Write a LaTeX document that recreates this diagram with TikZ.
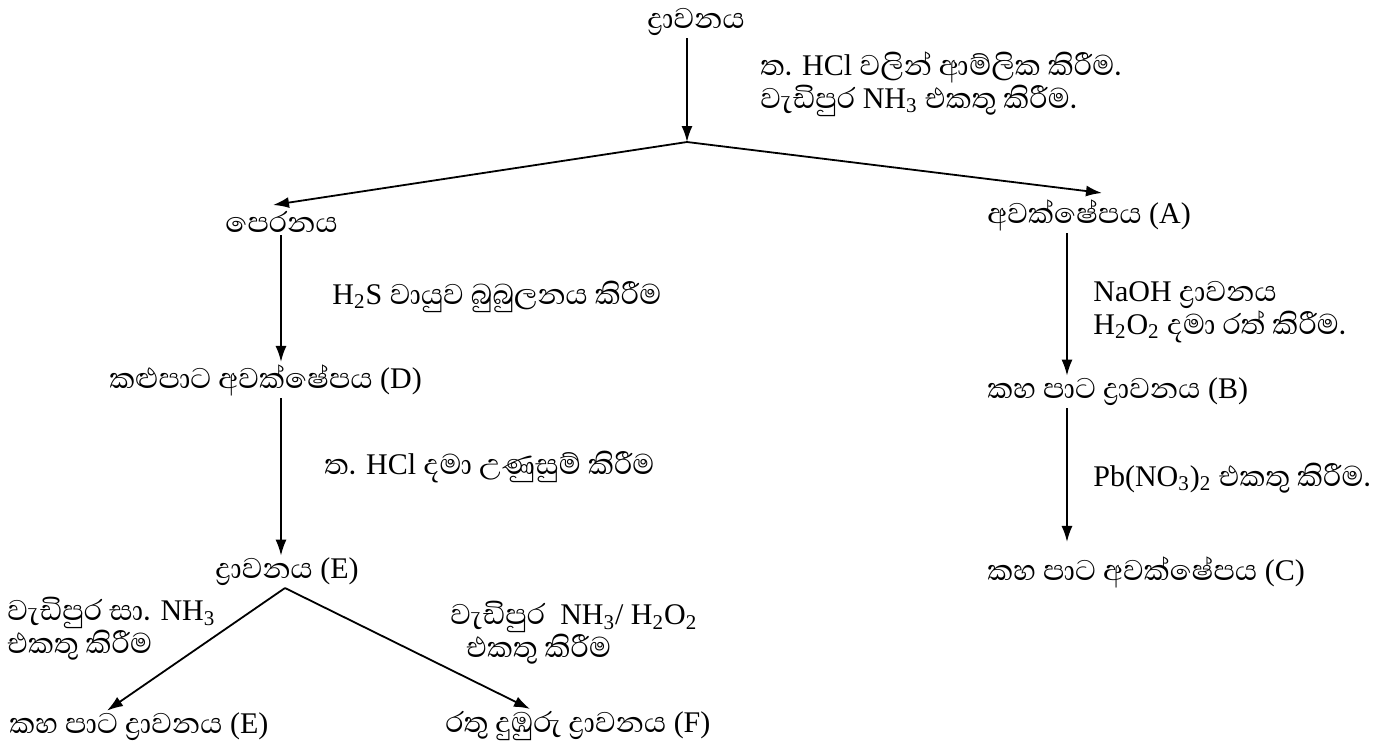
\documentclass[tikz,border=0pt]{standalone}
\usepackage{fontspec}
\setmainfont{Liberation Serif}
\newfontfamily\sinhala[Script=Sinhala,Scale=1.22]{Abhaya Libre}
\newcommand{\sn}[1]{{\sinhala #1}}
\usetikzlibrary{arrows.meta}
\usetikzlibrary{positioning}

\tikzset{
  stage/.style={inner sep=1pt, anchor=west},
  note/.style={inner sep=0pt, anchor=west, align=left},
  flow/.style={-{Latex[length=8pt,width=5.5pt]}, line width=0.9pt},
}

\begin{document}
\begin{tikzpicture}[x=0.5pt, y=-0.5pt, font=\fontsize{15}{16.5}\selectfont]
        \useasboundingbox (0,0) rectangle (1389,746);

        % Start
        \node[inner sep=1pt] (sol) at (696,22) {\sn{ද්‍රාවනය}};
        \coordinate (split) at (687,142);
        \draw[flow] (sol.south -| split) -- (split);
        \node[note] (acid) at (760,84) {\sn{ත.} HCl \sn{වලින් ආම්ලික කිරීම.}\\\sn{වැඩිපුර} NH\textsubscript{3} \sn{එකතු කිරීම.}};

        % First split
        \node[stage] (filt) at (223,222) {\sn{පෙරනය}};
        \node[stage] (pptA) at (985,215) {\sn{අවක්ෂේපය} (A)};
        \draw[flow] (split) -- ([xshift=25pt,yshift=2pt]filt.north west);
        \draw[flow] (split) -- ([xshift=58.5pt,yshift=2pt]pptA.north west);

        % Left column
        \coordinate (colL) at (281,0);
        \node[stage] (pptD) at (107,380) {\sn{කළුපාට අවක්ෂේපය} (D)};
        \node[stage] (solE) at (213,572) {\sn{ද්‍රාවනය} (E)};
        \draw[flow] (filt.south -| colL) -- (pptD.north -| colL);
        \draw[flow] (pptD.south -| colL) -- (solE.north -| colL);
        \node[note] (gas) at (332,297) {H\textsubscript{2}S \sn{වායුව බුබුලනය කිරීම}};
        \node[note] (warm) at (324,467) {\sn{ත.} HCl \sn{දමා උණුසුම් කිරීම}};

        % Split of E
        \coordinate (forkE) at (285,588);
        \node[stage] (solEy) at (7,727) {\sn{කහ පාට ද්‍රාවනය} (E)};
        \node[stage] (solF) at (443,726) {\sn{රතු දුඹුරු ද්‍රාවනය} (F)};
        \draw[flow] (forkE) -- ([xshift=50pt]solEy.north west);
        \draw[flow] (forkE) -- ([xshift=43.5pt]solF.north west);
        \node[note] (conc) at (7,629) {\sn{වැඩිපුර සා.} NH\textsubscript{3}\\\sn{එකතු කිරීම}};
        \node[note] (perox) at (450,633) {\sn{වැඩිපුර}\ \ NH\textsubscript{3}/ H\textsubscript{2}O\textsubscript{2}\\\hspace*{8pt}\sn{එකතු කිරීම}};

        % Right column
        \coordinate (colR) at (1067,0);
        \node[stage] (solB) at (985,392) {\sn{කහ පාට ද්‍රාවනය} (B)};
        \node[stage] (pptC) at (985,572) {\sn{කහ පාට අවක්ෂේපය} (C)};
        \draw[flow] (pptA.south -| colR) -- (solB.north -| colR);
        \draw[flow] (solB.south -| colR) -- ([yshift=6pt]pptC.north -| colR);
        \node[note] (base) at (1093,312) {NaOH \sn{ද්‍රාවනය}\\H\textsubscript{2}O\textsubscript{2} \sn{දමා රත් කිරීම.}};
        \node[note] (lead) at (1093,478) {Pb(NO\textsubscript{3})\textsubscript{2} \sn{එකතු කිරීම.}};
    \end{tikzpicture}
\end{document}
